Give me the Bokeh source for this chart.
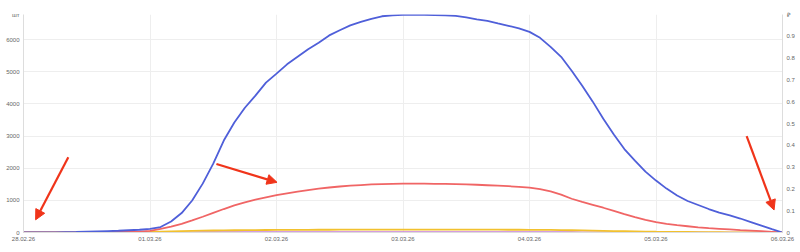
import pandas as pd
from bokeh.plotting import figure
from bokeh.models import (Range1d, LinearAxis, FixedTicker, DatetimeTickFormatter,
                          Arrow, NormalHead)
from bokeh.embed import file_html
from bokeh.resources import INLINE

# ---- data (2-hour steps from 28.02.26 00:00) ----
start = pd.Timestamp("2026-02-28 00:00")
times = pd.date_range(start, periods=73, freq="2h")

blue = [0, 2, 3, 6, 10, 15, 25, 35, 45, 55, 70, 85, 110, 170, 340, 605, 995, 1520, 2140,
        2860, 3420, 3880, 4255, 4660, 4940, 5230, 5465, 5700, 5900, 6130, 6290, 6440, 6550,
        6645, 6725, 6755, 6770, 6770, 6770, 6760, 6750, 6735, 6690, 6630, 6585, 6505, 6430,
        6350, 6240, 6055, 5775, 5465, 5030, 4565, 4070, 3540, 3045, 2595, 2235, 1895, 1615,
        1365, 1150, 980, 855, 730, 620, 530, 435, 325, 215, 105, 0]
red = [0, 0, 0, 1, 2, 3, 4, 6, 10, 15, 20, 30, 50, 110, 180, 270, 375, 490, 610, 730, 845,
       940, 1020, 1090, 1160, 1220, 1270, 1320, 1365, 1400, 1430, 1455, 1475, 1495, 1505,
       1515, 1520, 1520, 1520, 1515, 1510, 1505, 1495, 1485, 1470, 1455, 1440, 1420, 1395,
       1350, 1280, 1180, 1050, 950, 860, 770, 670, 570, 475, 390, 320, 270, 230, 195, 160,
       135, 115, 95, 75, 60, 40, 20, 0]
yellow = [0, 0, 0, 0, 1, 2, 3, 5, 7, 9, 12, 16, 22, 30, 38, 45, 52, 57, 62, 66, 70, 73, 76,
          78, 80, 82, 83, 84, 85, 86, 87, 88, 88, 88, 88, 88, 88, 88, 88, 88, 88, 88, 88, 88,
          88, 87, 86, 85, 84, 82, 80, 76, 70, 64, 58, 52, 45, 40, 35, 30, 25, 21, 18, 15, 12,
          10, 8, 6, 5, 4, 2, 1, 0]
purple = [0, 0, 0, 0, 0, 0, 0, 0, 1, 1, 2, 3, 4, 6, 8, 9, 10, 11, 12, 13, 13, 14, 14, 15,
          15, 15, 15, 15, 15, 15, 15, 15, 15, 15, 15, 15, 15, 15, 15, 15, 15, 15, 15, 15, 15,
          15, 15, 14, 14, 13, 13, 12, 11, 10, 9, 8, 7, 6, 6, 5, 5, 4, 4, 3, 3, 2, 2, 2, 1, 1,
          1, 0, 0]

x_tick_dates = ["2026-02-28", "2026-03-01", "2026-03-02", "2026-03-03",
                "2026-03-04", "2026-03-05", "2026-03-06"]
left_ticks = [0, 1000, 2000, 3000, 4000, 5000, 6000]
left_max = 6780
right_ticks = [0, 0.1, 0.2, 0.3, 0.4, 0.5, 0.6, 0.7, 0.8, 0.9]
right_max = 1.0
left_unit = "шт"
right_unit = "₽"

FONT = "Liberation Sans"
TICK_COLOR = "#666666"
GRID = "#eeeeee"

x0 = pd.Timestamp(x_tick_dates[0])
x1 = pd.Timestamp(x_tick_dates[-1])

p = figure(width=800, height=252, x_axis_type="datetime",
           x_range=Range1d(x0, x1), y_range=Range1d(0, left_max),
           output_backend="svg", toolbar_location=None,
           min_border_left=23, min_border_right=18, min_border_top=14,
           min_border_bottom=20, background_fill_color="white",
           border_fill_color="white", outline_line_color=None)

p.extra_y_ranges = {"right": Range1d(0, right_max)}

ms = [pd.Timestamp(d).value // 10**6 for d in x_tick_dates]
p.xaxis.ticker = FixedTicker(ticks=ms)
p.xaxis.formatter = DatetimeTickFormatter(days="%d.%m.%y", months="%d.%m.%y",
                                          hours="%d.%m.%y")
p.yaxis.ticker = FixedTicker(ticks=left_ticks + [left_max])
p.yaxis.major_label_overrides = {left_max: left_unit}

right_axis = LinearAxis(y_range_name="right",
                        ticker=FixedTicker(ticks=right_ticks + [right_max]))
right_axis.major_label_overrides = {right_max: right_unit}
p.add_layout(right_axis, "right")

for ax in [p.xaxis[0], p.yaxis[0], right_axis]:
    ax.axis_line_color = "#dddddd"
    ax.major_tick_line_color = None
    ax.minor_tick_line_color = None
    ax.major_tick_out = 0
    ax.major_tick_in = 0
    ax.minor_tick_out = 0
    ax.minor_tick_in = 0
    ax.major_label_text_font = FONT
    ax.major_label_text_font_size = "6px"
    ax.major_label_text_color = TICK_COLOR
p.yaxis[0].major_label_standoff = 4
right_axis.major_label_standoff = 4
p.xaxis[0].major_label_standoff = 4

p.xgrid.grid_line_color = GRID
p.ygrid.grid_line_color = GRID

p.line(times, purple, line_color="#c77dd6", line_width=1.6)
p.line(times, yellow, line_color="#f2c12e", line_width=1.8)
p.line(times, red, line_color="#f06565", line_width=1.8)
p.line(times, blue, line_color="#4f5fd9", line_width=1.8)

# ---- annotation arrows (hours from start, value on left axis) ----
arrows = [((8.5, 2340), (2.3, 395)), ((36.6, 2130), (48.1, 1560)),
          ((137.2, 3000), (142.4, 700))]
for (hs, vs), (he, ve) in arrows:
    xs = start + pd.Timedelta(hours=hs)
    xe = start + pd.Timedelta(hours=he)
    p.add_layout(Arrow(end=NormalHead(size=10, fill_color="#f0341a", line_color="#f0341a"),
                       x_start=xs, y_start=vs, x_end=xe, y_end=ve,
                       line_color="#f0341a", line_width=2.2))

open("out.html", "w").write(file_html(p, INLINE))
